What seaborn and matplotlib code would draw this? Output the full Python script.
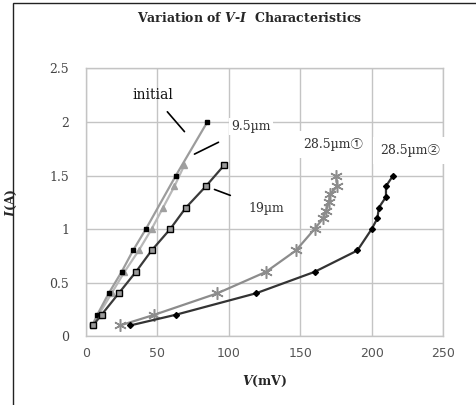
import matplotlib
matplotlib.use("Agg")
import matplotlib.pyplot as plt
import seaborn as sns
import pandas as pd
from matplotlib.patches import Rectangle

# data
v_initial = [4.5, 8, 16, 25, 33, 42, 63, 85]
i_initial = [0.1, 0.2, 0.4, 0.6, 0.8, 1.0, 1.5, 2.0]

v_95 = [5, 9, 18, 27, 37, 46, 54, 62, 69]
i_95 = [0.1, 0.2, 0.4, 0.6, 0.8, 1.0, 1.2, 1.4, 1.6]

v_19 = [5, 11, 23, 35, 46, 59, 70, 84, 97]
i_19 = [0.1, 0.2, 0.4, 0.6, 0.8, 1.0, 1.2, 1.4, 1.6]

v_285a = [24, 48, 92, 126, 147, 160, 166, 168, 170, 171, 176, 175]
i_285a = [0.1, 0.2, 0.4, 0.6, 0.8, 1.0, 1.1, 1.17, 1.25, 1.33, 1.4, 1.5]

v_285b = [31, 63, 119, 160, 190, 200, 204, 205, 210, 210, 215]
i_285b = [0.1, 0.2, 0.4, 0.6, 0.8, 1.0, 1.1, 1.2, 1.3, 1.4, 1.5]

x_ticks = [0, 50, 100, 150, 200, 250]
y_ticks = [0, 0.5, 1, 1.5, 2, 2.5]

sns.set_style("white")
plt.rcParams['font.family'] = ['DejaVu Serif', 'Noto Sans CJK JP']
plt.rcParams['mathtext.fontset'] = 'custom'
plt.rcParams['mathtext.it'] = 'DejaVu Serif:italic:bold'
plt.rcParams['mathtext.rm'] = 'DejaVu Serif:bold'

fig = plt.figure(figsize=(4.77, 4.05), dpi=100)
ax = fig.add_axes([0.180, 0.170, 0.749, 0.661])

# chart-area frame (left and top edges visible)
fig.add_artist(Rectangle((13 / 477, -0.2), 1.2, 1.2 - 3 / 405, transform=fig.transFigure,
                         fill=False, edgecolor="#222222", linewidth=1.0))

def draw(v, i, color, marker, ms, mfc, mec, lw=1.6, mew=1.0):
    df = pd.DataFrame({"V": v, "I": i})
    sns.lineplot(data=df, x="V", y="I", sort=False, estimator=None, ax=ax,
                 color=color, linewidth=lw, marker=marker, markersize=ms,
                 markerfacecolor=mfc, markeredgecolor=mec, markeredgewidth=mew, zorder=3)

draw(v_95, i_95, "#b8b8b8", "^", 4.5, "#a0a0a0", "#a0a0a0")
draw(v_initial, i_initial, "#9c9c9c", "s", 3.5, "black", "black")
draw(v_19, i_19, "#3a3a3a", "s", 4, "#9a9a9a", "black")
draw(v_285a, i_285a, "#8c8c8c", (6, 2, 0), 9, "#8c8c8c", "#8c8c8c", mew=1.1)
draw(v_285b, i_285b, "#333333", "D", 3, "black", "black")

ax.set_xlim(0, 250)
ax.set_ylim(0, 2.5)
ax.set_xticks(x_ticks)
ax.set_yticks(y_ticks)
ax.set_xticklabels([str(t) for t in x_ticks], family="DejaVu Sans", color="#555555", fontsize=9)
ax.set_yticklabels(["0", "0.5", "1", "1.5", "2", "2.5"], color="#444444", fontsize=9)
ax.tick_params(axis="x", length=0, pad=8)
ax.tick_params(axis="y", length=0, pad=12)
ax.grid(True, color="#c4c4c4", linewidth=1.0)
ax.set_axisbelow(True)
for s in ax.spines.values():
    s.set_color("#c4c4c4")
    s.set_linewidth(1.0)

ax.set_xlabel("$V$(mV)", fontsize=9, fontweight="bold", labelpad=10)
ax.set_ylabel("$I$(A)", fontsize=9, fontweight="bold", labelpad=22)
fig.text(0.523, 0.955, "Variation of $V$-$I$  Characteristics", ha="center", va="center",
         fontsize=9, fontweight="bold")

box = dict(facecolor="white", edgecolor="none", pad=1.5)
lbl = dict(fontsize=9, color="#333333", zorder=5)
ax.annotate("initial", xy=(69, 1.91), xytext=(47, 2.25), ha="center", va="center",
            fontsize=10, color="#111111", arrowprops=dict(arrowstyle="-", color="black", lw=1.2,
                                                          shrinkA=6, shrinkB=0))
ax.annotate("9.5µm", xy=(76, 1.70), xytext=(115.5, 1.96), ha="center", va="center",
            bbox=box, arrowprops=dict(arrowstyle="-", color="black", lw=1.2, shrinkA=12, shrinkB=0), **lbl)
ax.annotate("19µm", xy=(90, 1.37), xytext=(126, 1.19), ha="center", va="center",
            bbox=box, arrowprops=dict(arrowstyle="-", color="black", lw=1.2, shrinkA=12, shrinkB=0), **lbl)
ax.text(173, 1.79, "28.5µm①", ha="center", va="center",
        bbox=dict(facecolor="white", edgecolor="none", pad=5), **lbl)
ax.text(227, 1.73, "28.5µm②", ha="center", va="center",
        bbox=dict(facecolor="white", edgecolor="none", pad=5), **lbl)

fig.savefig("out.png", dpi=100)
